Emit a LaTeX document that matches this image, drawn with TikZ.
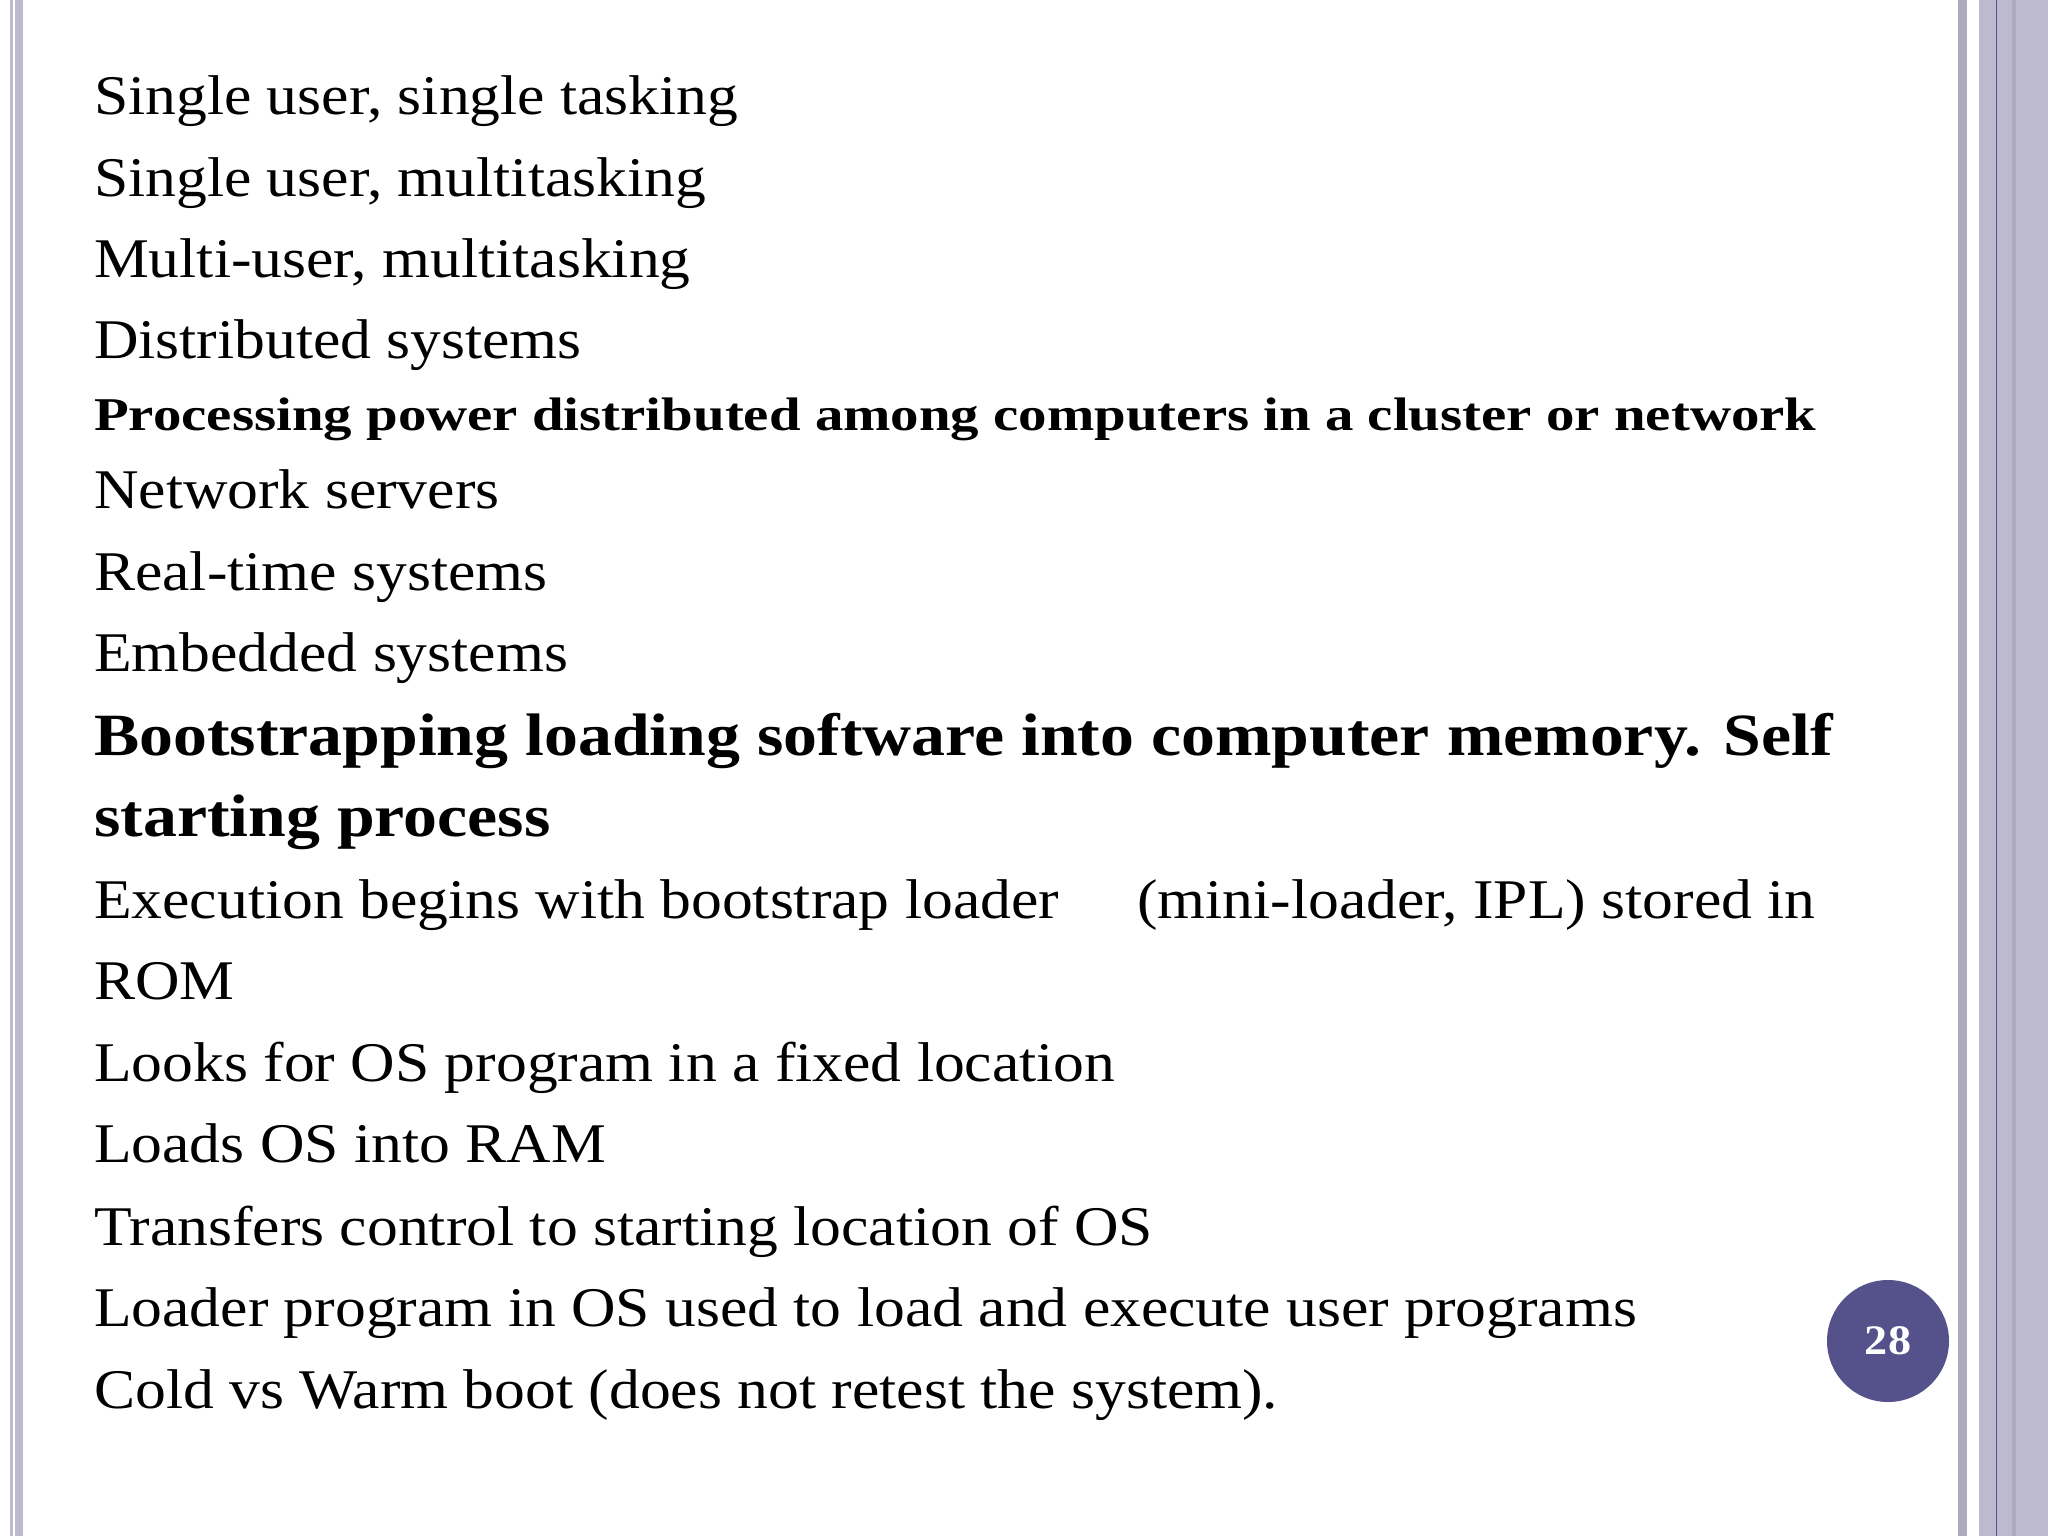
\documentclass[tikz,border=0pt]{standalone}
\usepackage{fontspec}
\setmainfont[FakeStretch=1.1]{Liberation Serif}
\newfontfamily\bfa[FakeStretch=1.21]{Liberation Serif Bold}
\newfontfamily\bfb[FakeStretch=1.13]{Liberation Serif Bold}
\definecolor{lav}{HTML}{BDBAD0}
\definecolor{lavd}{HTML}{ADAAC0}
\definecolor{navy}{HTML}{55518A}
\begin{document}
\begin{tikzpicture}[x=1pt,y=-1pt,
  ln/.style={anchor=base west,inner sep=0pt,font=\fontsize{56}{60}\selectfont},
  bl/.style={anchor=base west,inner sep=0pt,font=\fontsize{47}{50}\bfa},
  bb/.style={anchor=base west,inner sep=0pt,font=\fontsize{60}{64}\bfb}]
\useasboundingbox (0,0) rectangle (2048,1536);
\fill[white] (0,0) rectangle (2048,1536);
% left border
\fill[lav] (10,0) rectangle (13,1536);
\fill[lav] (15,0) rectangle (23,1536);
% right border
\fill[lavd] (1958,0) rectangle (1967,1536);
\fill[lav] (1979,0) rectangle (2048,1536);
\fill[navy] (1995.5,0) rectangle (1997,1536);
\fill[lavd] (2012,0) rectangle (2016,1536);
\node[ln] (l1) at (94,115) {Single user, single tasking};
\node[ln] (l2) at (94,196) {Single user, multitasking};
\node[ln] (l3) at (94,277) {Multi-user, multitasking};
\node[ln] (l4) at (94,358) {Distributed systems};
\node[bl] (l5) at (94,430) {Processing power distributed among computers in a cluster or network};
\node[ln] (l6) at (94,508) {Network servers};
\node[ln] (l7) at (94,590) {Real-time systems};
\node[ln] (l8) at (94,671) {Embedded systems};
\node[bb] (l9) at (94,755) {Bootstrapping loading software into computer memory. Self};
\node[bb] (l10) at (94,836) {starting process};
\node[ln] (l11) at (94,918) {Execution begins with bootstrap loader};
\node[ln] (l11b) at (1137,918) {(mini-loader, IPL) stored in};
\node[ln] (l12) at (94,999) {ROM};
\node[ln] (l13) at (94,1081) {Looks for OS program in a fixed location};
\node[ln] (l14) at (94,1162) {Loads OS into RAM};
\node[ln] (l15) at (94,1245) {Transfers control to starting location of OS};
\node[ln] (l16) at (94,1326) {Loader program in OS used to load and execute user programs};
\node[ln] (l17) at (94,1408) {Cold vs Warm boot (does not retest the system).};
\node[circle,fill=navy,minimum size=122pt,inner sep=0pt,text=white,font=\fontsize{42}{44}\selectfont\bfseries] (pg) at (1888,1341) {28};
\end{tikzpicture}
\end{document}
